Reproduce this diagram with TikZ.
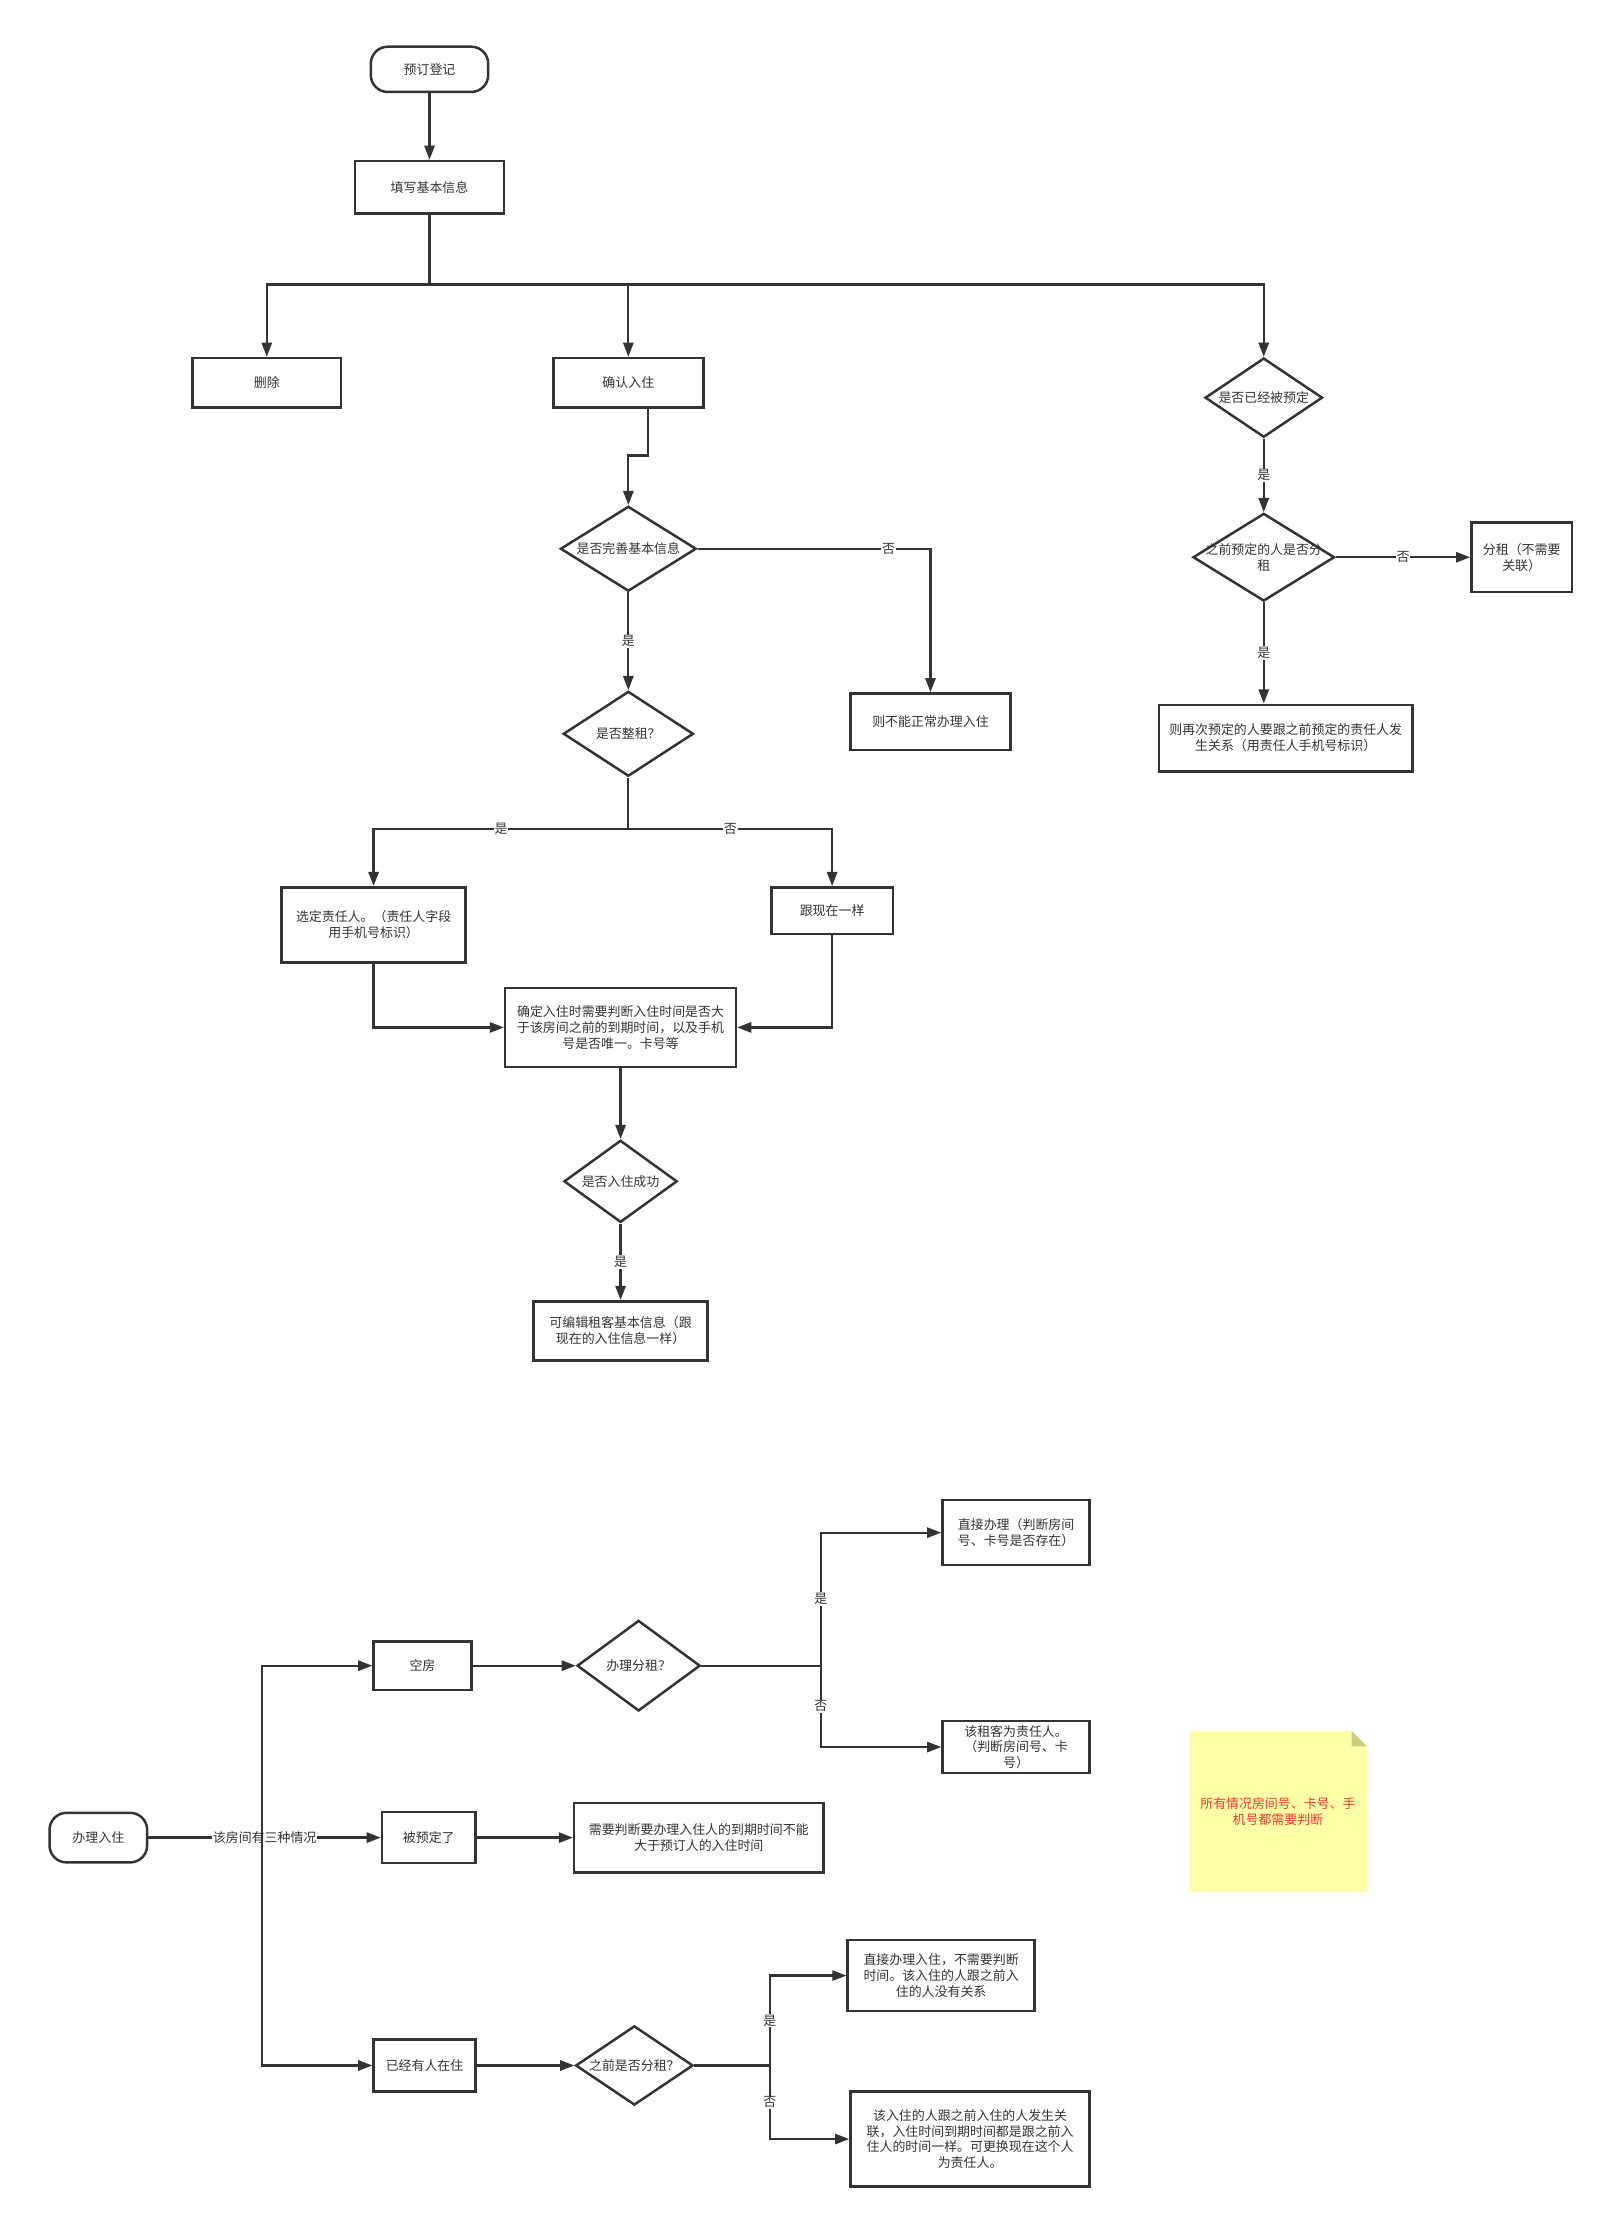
\documentclass[tikz,border=0pt]{standalone}
\usepackage{fontspec}
\newfontfamily\cjk{Noto Sans CJK SC}
\usetikzlibrary{arrows.meta,positioning,shapes.geometric}
\definecolor{Ink}{HTML}{333333}
\definecolor{Memo}{HTML}{FFFFA8}
\definecolor{MemoFold}{HTML}{CDCD80}
\definecolor{Alert}{HTML}{FF3333}
\tikzset{
  base/.style={
    draw=Ink, line width=2.5pt, text=Ink, align=center,
    font=\cjk\fontsize{13}{16}\selectfont, inner sep=2pt
  },
  terminal/.style={base, rounded corners=0.6cm},
  process/.style={base},
  decision/.style={base, diamond, aspect=1.5, inner sep=0pt},
  memo/.style={
    fill=Memo, text=Alert, align=center, outer sep=0pt,
    font=\cjk\fontsize{13}{16}\selectfont
  },
  flow/.style={-{Triangle[length=0.5cm,width=0.36cm]}, line width=2.3pt, draw=Ink},
  wire/.style={line width=2.3pt, draw=Ink},
  tag/.style={fill=white, text=Ink, inner sep=1pt, font=\cjk\fontsize{13}{16}\selectfont}
}

\begin{document}
\begin{tikzpicture}
        \useasboundingbox (0,0) rectangle (56.65,-78.4);
        \node[terminal,minimum width=4.15cm,minimum height=1.6cm] (start) at (15.175,-2.45) {预订登记};
        \node[process,minimum width=5.25cm,minimum height=1.85cm,below=2.35cm of start] (fill) {填写基本信息};
        \node[process,minimum width=5.25cm,minimum height=1.75cm] (del) at (9.425,-13.525) {删除};
        \node[process,minimum width=5.3cm,minimum height=1.75cm] (confirm) at (22.2,-13.525) {确认入住};
        \node[decision,minimum width=4.15cm,minimum height=2.8cm] (booked) at (44.65,-14.05) {是否已经被预定};
        \node[decision,minimum width=4.8cm,minimum height=3cm,below=3.4cm of confirm] (complete) {是否完善基本信息};
        \node[process,minimum width=5.65cm,minimum height=2cm] (cannot) at (32.875,-25.5) {则不能正常办理入住};
        \node[decision,minimum width=4.6cm,minimum height=3cm,below=3.45cm of complete] (whole) {是否整租？};
        \node[process,minimum width=6.5cm,minimum height=2.65cm] (resp) at (13.2,-32.675) {选定责任人。（责任人字段\\用手机号标识）};
        \node[process,minimum width=4.3cm,minimum height=1.65cm] (same) at (29.4,-32.175) {跟现在一样};
        \node[process,minimum width=8.15cm,minimum height=2.8cm] (check) at (21.925,-36.3) {确定入住时需要判断入住时间是否大\\于该房间之前的到期时间，以及手机\\号是否唯一。卡号等};
        \node[decision,minimum width=4cm,minimum height=2.9cm,below=2.5cm of check] (success) {是否入住成功};
        \node[process,minimum width=6.15cm,minimum height=2.1cm,below=2.7cm of success] (edit) {可编辑租客基本信息（跟\\现在的入住信息一样）};
        \node[decision,minimum width=5cm,minimum height=3.1cm,below=2.6cm of booked] (prevsplit) {\makebox[0pt]{之前预定的人是否分}\\租};
        \node[process,minimum width=3.55cm,minimum height=2.45cm,right=4.75cm of prevsplit] (splitrent) {分租（不需要\\关联）};
        \node[process,minimum width=8.95cm,minimum height=2.35cm] (link) at (45.425,-26.075) {则再次预定的人要跟之前预定的责任人发\\生关系（用责任人手机号标识）};
        \coordinate (hub) at (15.175,-10.05);
        \coordinate (split) at (22.2,-29.3);
        \draw[flow] (start) -- (fill);
        \draw[wire] (fill) -- (hub);
        \draw[flow] (hub) -| (del);
        \draw[flow] (hub) -| (confirm);
        \draw[flow] (hub) -| (booked);
        \draw[flow] ([xshift=0.7cm]confirm.south) -- ++(0,-1.65) -| (complete);
        \draw[flow] (complete) -| node[tag,pos=0.41] {否} (cannot);
        \draw[flow] (complete) -- node[tag] {是} (whole);
        \draw[wire] (whole) -- (split);
        \draw[flow] (split) -| node[tag,pos=0.25] {是} (resp);
        \draw[flow] (split) -| node[tag,pos=0.25] {否} (same);
        \draw[flow] (resp) |- (check);
        \draw[flow] (same) |- (check);
        \draw[flow] (check) -- (success);
        \draw[flow] (success) -- node[tag] {是} (edit);
        \draw[flow] (booked) -- node[tag] {是} (prevsplit);
        \draw[flow] (prevsplit) -- node[tag] {否} (splitrent);
        \draw[flow] (prevsplit) -- node[tag] {是} (prevsplit |- link.north);

        \node[terminal,minimum width=3.45cm,minimum height=1.75cm] (handle) at (3.475,-64.925) {办理入住};
        \node[process,minimum width=3.45cm,minimum height=1.7cm] (empty) at (14.925,-58.85) {空房};
        \node[decision,minimum width=4.35cm,minimum height=3.2cm,right=3.65cm of empty] (splitq) {办理分租？};
        \node[process,minimum width=5.2cm,minimum height=2.3cm] (direct) at (35.9,-54.15) {直接办理（判断房间\\号、卡号是否存在）};
        \node[process,minimum width=5.2cm,minimum height=1.85cm] (tenant) at (35.9,-61.725) {该租客为责任人。\\（判断房间号、卡\\号）};
        \node[process,minimum width=3.3cm,minimum height=1.8cm] (reserved) at (15.15,-64.925) {被预定了};
        \node[process,minimum width=8.8cm,minimum height=2.45cm,right=3.4cm of reserved] (judge) {需要判断要办理入住人的到期时间不能\\大于预订人的入住时间};
        \node[process,minimum width=3.6cm,minimum height=1.85cm] (occupied) at (15,-72.975) {已经有人在住};
        \node[decision,minimum width=4.15cm,minimum height=2.8cm,right=3.45cm of occupied] (prevq) {之前是否分租？};
        \node[process,minimum width=6.6cm,minimum height=2.5cm] (nolink) at (33.25,-69.8) {直接办理入住，不需要判断\\时间。该入住的人跟之前入\\住的人没有关系};
        \node[process,minimum width=8.45cm,minimum height=3.35cm] (relate) at (34.275,-75.575) {该入住的人跟之前入住的人发生关\\联，入住时间到期时间都是跟之前入\\住人的时间一样。可更换现在这个人\\为责任人。};
        \node[memo,minimum width=6.3cm,minimum height=5.7cm] (note) at (45.15,-64) {所有情况房间号、卡号、手\\机号都需要判断};
        \fill[white] ([xshift=-0.55cm]note.north east) -- (note.north east) -- ([yshift=-0.55cm]note.north east) -- cycle;
        \fill[MemoFold] ([xshift=-0.55cm]note.north east) -- ([yshift=-0.55cm]note.north east) -- ([xshift=-0.55cm,yshift=-0.55cm]note.north east) -- cycle;
        \coordinate (fork) at (9.25,-64.925);
        \coordinate (br1) at (29,-58.85);
        \coordinate (br2) at (27.2,-72.975);
        \draw[flow] (handle) -- node[tag] {该房间有三种情况} (reserved);
        \draw[flow] (fork) |- (empty);
        \draw[flow] (fork) |- (occupied);
        \draw[flow] (empty) -- (splitq);
        \draw[wire] (splitq) -- (br1);
        \draw[flow] (br1) |- node[tag,pos=0.25] {是} (direct);
        \draw[flow] (br1) |- node[tag,pos=0.25] {否} (tenant);
        \draw[flow] (reserved) -- (judge);
        \draw[flow] (occupied) -- (prevq);
        \draw[wire] (prevq) -- (br2);
        \draw[flow] (br2) |- node[tag,pos=0.25] {是} (nolink);
        \draw[flow] (br2) |- node[tag,pos=0.25] {否} (relate);
      \end{tikzpicture}
\end{document}
